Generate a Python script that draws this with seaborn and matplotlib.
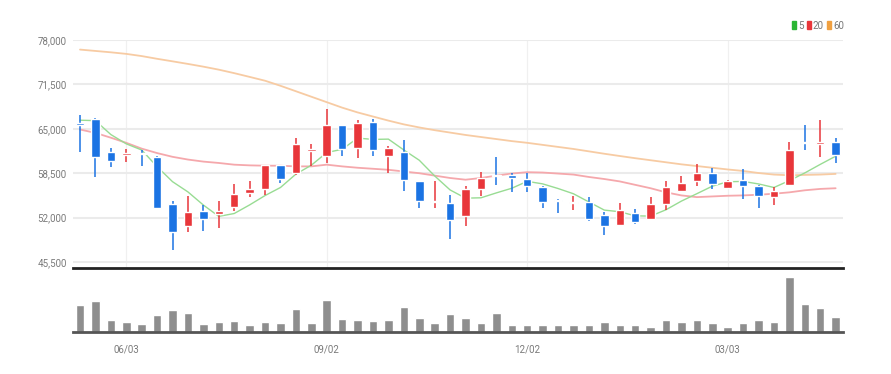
import numpy as np
import pandas as pd
import matplotlib
matplotlib.use("Agg")
import matplotlib.pyplot as plt
from matplotlib.patches import Patch
import seaborn as sns

# ----------------------------------------
# Weekly candle data
# ----------------------------------------
opens = [65700, 66500, 61600, 61200, 61450, 60900, 54000, 50700, 52900, 52600,
         53500, 55600, 56200, 59650, 58600, 61800, 61000, 65500, 62200, 66000,
         61000, 61600, 57300, 54300, 54100, 52300, 56200, 58300, 58200, 57700,
         56500, 54500, 54100, 54250, 52400, 50850, 52650, 51800, 54000, 55950,
         57300, 58550, 56300, 57450, 56650, 55000, 56800, 63000, 62850, 63050]
highs = [66950, 66600, 62200, 62060, 61860, 61000, 54400, 55200, 53900, 54500,
         56900, 57300, 59750, 59700, 63700, 62800, 67850, 65600, 66300, 66400,
         62450, 63400, 57400, 57400, 55250, 56650, 58750, 60900, 58550, 58550,
         56600, 54750, 55200, 55000, 52800, 54200, 53250, 54950, 57300, 58050,
         59850, 59250, 57550, 59150, 56800, 56450, 63050, 65500, 66250, 63700]
lows = [61560, 57900, 59350, 60090, 59600, 53300, 47250, 49950, 50100, 50500,
        53000, 54950, 55250, 57050, 58300, 59500, 60000, 61000, 60750, 61050,
        58600, 55850, 53450, 53400, 48800, 50800, 55200, 56800, 55700, 55800,
        53450, 52650, 53150, 51550, 49450, 50800, 51050, 51650, 53150, 55850,
        56650, 56200, 56150, 54700, 53400, 53850, 56650, 61950, 60900, 60000]
closes = [65600, 60900, 60300, 61400, 61300, 53400, 49900, 52800, 51800, 53000,
          55500, 56200, 59650, 57700, 62800, 62000, 65500, 62000, 65900, 61850,
          62200, 57550, 54500, 54400, 51600, 56200, 57800, 58100, 57800, 56650,
          54350, 54400, 54250, 51800, 50700, 53150, 51400, 54050, 56450, 57050,
          58550, 56900, 57300, 56700, 55200, 55950, 61950, 62900, 62950, 61200]
# closes of the 4 weeks before the window (needed for the 5 week average)
prior_closes = [61200, 70500, 68200, 65800]

ma20 = [64900, 64400, 63700, 62950, 62100, 61450, 60900, 60500, 60200, 60000,
        59750, 59650, 59600, 59600, 59500, 59500, 59750, 59500, 59300, 59150,
        59000, 58750, 58500, 58150, 57800, 57550, 57800, 58150, 58450, 58650,
        58600, 58450, 58300, 57950, 57650, 57300, 56800, 56300, 55700, 55250,
        55000, 55100, 55200, 55250, 55350, 55500, 55700, 56000, 56200, 56300]
ma60 = [76600, 76400, 76200, 75970, 75650, 75250, 74880, 74500, 74100, 73660,
        73150, 72600, 72040, 71300, 70500, 69700, 68900, 68100, 67400, 66800,
        66200, 65650, 65200, 64800, 64450, 64100, 63800, 63500, 63200, 62950,
        62650, 62350, 62050, 61700, 61350, 61020, 60700, 60400, 60100, 59800,
        59550, 59300, 59050, 58830, 58530, 58300, 58200, 58250, 58300, 58400]

volumes = [273, 313, 120, 103, 87, 173, 223, 190, 87, 103,
           110, 77, 107, 97, 230, 97, 323, 130, 123, 110,
           123, 257, 140, 97, 180, 143, 97, 190, 70, 73,
           70, 70, 70, 70, 103, 70, 77, 57, 120, 103,
           127, 90, 57, 93, 120, 107, 550, 283, 240, 157]

tick_idx = [3, 16, 29, 42]
tick_labels = ["06/03", "09/02", "12/02", "03/03"]
y_ticks = [45500, 52000, 58500, 65000, 71500, 78000]

# ----------------------------------------
# Build the frame
# ----------------------------------------
df = pd.DataFrame({"open": opens, "high": highs, "low": lows,
                   "close": closes, "ma20": ma20, "ma60": ma60,
                   "volume": np.array(volumes) * 1000})
df["idx"] = np.arange(len(df))
all_close = pd.Series(prior_closes + closes)
df["ma5"] = all_close.rolling(5).mean().iloc[len(prior_closes):].values

up_col = "#e8363a"
down_col = "#1b73e3"

sns.set_style("white")
plt.rcParams["font.family"] = ["Roboto", "DejaVu Sans"]

fig = plt.figure(figsize=(8.91, 3.74), dpi=100)
ax = fig.add_axes([0.082, 0.283, 0.864, 0.61])
axv = fig.add_axes([0.082, 0.111, 0.864, 0.167], sharex=ax)

# ---- moving averages
sns.lineplot(data=df, x="idx", y="ma60", ax=ax, color="#f7cba3", lw=1.3, zorder=2)
sns.lineplot(data=df, x="idx", y="ma20", ax=ax, color="#f5a8ac", lw=1.3, zorder=2)
sns.lineplot(data=df, x="idx", y="ma5", ax=ax, color="#98dc93", lw=1.0, zorder=2)

# ---- candles
is_up = df["close"] >= df["open"]
colors = np.where(is_up, up_col, down_col)
body_low = df[["open", "close"]].min(axis=1)
body_h = (df["close"] - df["open"]).abs().clip(lower=180)
ax.vlines(df["idx"], df["low"], df["high"], colors=colors, lw=1.1, zorder=3)
ax.bar(df["idx"], body_h, bottom=body_low, width=0.55, color=colors, zorder=4)

ax.set_ylim(44600, 78000)
ax.set_xlim(-0.45, 49.47)
ax.set_yticks(y_ticks)
ax.set_yticklabels([f"{v:,}" for v in y_ticks], color="#7a7a7a", fontsize=7)
ax.set_xticks(tick_idx)
ax.tick_params(axis="x", bottom=False, labelbottom=False)
ax.tick_params(axis="y", left=False, pad=1)
ax.grid(axis="y", color="#ebebeb", lw=1.5)
ax.grid(axis="x", color="#f0f0f0", lw=0.9)
ax.set_axisbelow(True)
ax.set_xlabel("")
ax.set_ylabel("")
for s in ["top", "right", "left"]:
    ax.spines[s].set_visible(False)
ax.spines["bottom"].set_color("#222222")
ax.spines["bottom"].set_linewidth(2)

# ---- legend boxes
leg_items = [("5", "#2bb534"), ("20", "#e8363a"), ("60", "#f0a040")]
handles = [Patch(color=c, label=l) for l, c in leg_items]
fig.legend(handles=handles, loc="upper right", bbox_to_anchor=(0.957, 0.968),
           ncol=3, frameon=False, fontsize=7, handlelength=0.45,
           handleheight=0.9, handletextpad=0.2, columnspacing=0.3,
           labelcolor="#777777")

# ---- volume
sns.barplot(data=df, x="idx", y="volume", ax=axv, color="#8e8e8e",
            width=0.55, saturation=1, native_scale=True)
axv.set_ylim(0, 620000)
axv.set_xlim(-0.45, 49.47)
axv.set_xticks(tick_idx)
axv.set_xticklabels(tick_labels, color="#7a7a7a", fontsize=7)
axv.tick_params(axis="x", length=4, width=1, color="#333333", pad=5, direction="out")
axv.set_yticks([])
axv.set_xlabel("")
axv.set_ylabel("")
for s in ["top", "right", "left"]:
    axv.spines[s].set_visible(False)
axv.spines["bottom"].set_color("#555555")
axv.spines["bottom"].set_linewidth(2)

fig.savefig("out.png", dpi=100, facecolor="white")
